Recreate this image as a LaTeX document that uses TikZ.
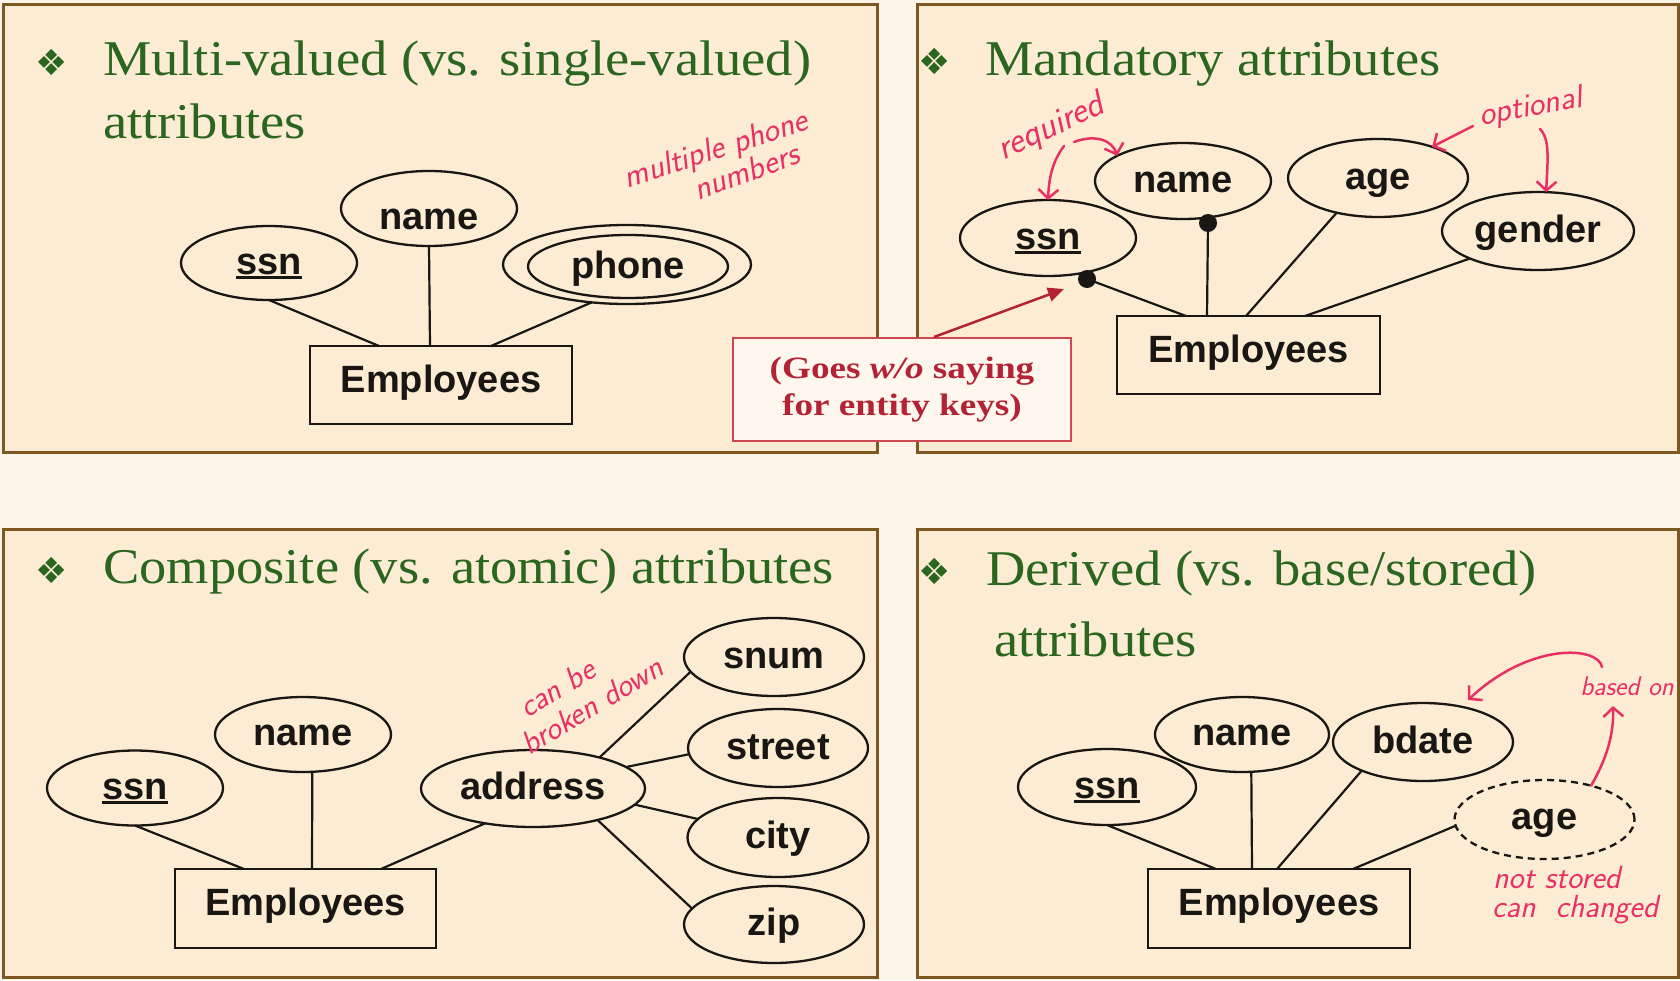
\documentclass[tikz,border=0pt]{standalone}
\usepackage{fontspec}
\setmainfont{Liberation Serif}
\newfontfamily\titlefont[FakeStretch=1.09]{Liberation Serif}
\newfontfamily\goesfont[FakeStretch=1.2]{Liberation Serif}
\newfontfamily\erfont{Liberation Sans}
\newfontfamily\symfont{DejaVu Sans}
\usetikzlibrary{shapes.geometric,arrows.meta}
\definecolor{bgc}{RGB}{253,245,234}
\definecolor{panelc}{RGB}{252,236,211}
\definecolor{borderc}{RGB}{125,88,35}
\definecolor{titlec}{RGB}{42,102,32}
\definecolor{pinkc}{RGB}{232,48,100}
\definecolor{redc}{RGB}{180,35,52}
\definecolor{redbox}{RGB}{205,72,80}
\definecolor{boxfill}{RGB}{254,247,238}
\definecolor{inkc}{RGB}{25,22,20}
\newcommand{\keyu}[1]{\setbox0\hbox{#1}\rlap{\rule[-5pt]{\wd0}{2.6pt}}\box0}
\begin{document}
\begin{tikzpicture}[x=1pt,y=-1pt,
  panel/.style={draw=borderc,line width=3pt,fill=panelc},
  ttl/.style={anchor=base west,inner sep=0pt,outer sep=0pt,text=titlec,font=\titlefont\fontsize{50}{52}\selectfont},
  bul/.style={inner sep=0pt,text=titlec,font=\symfont\fontsize{36}{36}\selectfont},
  attr/.style={ellipse,draw=inkc,line width=2.3pt,inner sep=0pt,outer sep=0pt,text=inkc,text height=24pt,text depth=2pt,font=\erfont\bfseries\fontsize{38}{40}\selectfont},
  ent/.style={rectangle,draw=inkc,line width=2.5pt,inner sep=0pt,outer sep=0pt,text=inkc,text height=22pt,text depth=8pt,font=\erfont\bfseries\fontsize{38}{40}\selectfont},
  edge/.style={draw=inkc,line width=2.2pt},
  kdot/.style={circle,fill=inkc,inner sep=0pt,minimum size=18pt},
  note/.style={inner sep=0pt,text=pinkc,font=\sffamily\itshape\fontsize{32}{34}\selectfont},
  parrow/.style={draw=pinkc,line width=2.5pt,line cap=round,-{Straight Barb[length=9pt,width=20pt]}},
]
\fill[bgc] (0,0) rectangle (1680,980);
\useasboundingbox (0,0) rectangle (1680,980);

% panels
\draw[panel] (3.5,4.5) rectangle (877.5,452.5);
\draw[panel] (917.5,4.5) rectangle (1678.5,452.5);
\draw[panel] (3.5,529.5) rectangle (877.5,977.5);
\draw[panel] (917.5,529.5) rectangle (1678.5,977.5);

% titles
\node[bul] (b1) at (52,62) {❖};
\node[ttl] (t1a) at (103,75) {Multi-valued (vs. single-valued)};
\node[ttl] (t1b) at (103,138) {attributes};
\node[bul] (b2) at (935,61) {❖};
\node[ttl] (t2a) at (985,75) {Mandatory attributes};
\node[bul] (b3) at (52,570) {❖};
\node[ttl] (t3a) at (103,583) {Composite (vs. atomic) attributes};
\node[bul] (b4) at (935,571) {❖};
\node[ttl] (t4a) at (986,585) {Derived (vs. base/stored)};
\node[ttl] (t4b) at (994,656) {attributes};

% ---------- panel 1: multi-valued
\node[attr,minimum width=176pt,minimum height=74pt] (ssnA) at (269,263) {\keyu{ssn}};
\node[attr,minimum width=176pt,minimum height=75pt,text height=44pt] (nameA) at (429,208.5) {name};
\node[attr,minimum width=248pt,minimum height=79pt] (phoneO) at (627,264.5) {};
\node[attr,minimum width=200pt,minimum height=63pt,text height=25pt,text depth=1pt] (phoneI) at (628,266.5) {phone};
\node[ent,minimum width=262pt,minimum height=78pt] (empA) at (441,385) {Employees};
\draw[edge] (ssnA.south) -- ([xshift=69pt]empA.north west);
\draw[edge] (nameA.south) -- ([xshift=120pt]empA.north west);
\draw[edge] (phoneO.-133) -- ([xshift=181pt]empA.north west);
\node[note,rotate=18,font=\sffamily\itshape\fontsize{33}{34}\selectfont] (mp1) at (716,151) {multiple phone};
\node[note,rotate=20,font=\sffamily\itshape\fontsize{33}{34}\selectfont\addfontfeatures{LetterSpace=12}] (mp2) at (746,171) {numbers};

% ---------- panel 2: mandatory
\node[attr,minimum width=176pt,minimum height=76pt] (ssnB) at (1048,238) {\keyu{ssn}};
\node[attr,minimum width=176pt,minimum height=76pt] (nameB) at (1183,181) {name};
\node[attr,minimum width=180pt,minimum height=78pt] (ageB) at (1378,178) {age};
\node[attr,minimum width=192pt,minimum height=78pt] (genderB) at (1538,231) {gender};
\node[ent,minimum width=263pt,minimum height=78pt] (empB) at (1248.5,355) {Employees};
\node[kdot] (dotB1) at (1087,279) {};
\node[kdot] (dotB2) at (1208,223) {};
\draw[edge] (dotB1.center) -- ([xshift=69pt]empB.north west);
\draw[edge] (dotB2.center) -- ([xshift=90pt]empB.north west);
\draw[edge] (ageB.-140) -- ([xshift=129pt]empB.north west);
\draw[edge] (genderB.-158) -- ([xshift=188pt]empB.north west);

\node[note,rotate=25,font=\sffamily\itshape\fontsize{36}{36}\selectfont] (req) at (1051,128) {required};
\coordinate (reqA) at (1064,146);
\coordinate (reqB) at (1074,142);
\draw[parrow] (reqA) .. controls (1052,162) and (1049,178) .. (ssnB.north);
\draw[parrow] (reqB) .. controls (1095,134) and (1112,140) .. (nameB.159);
\node[note,rotate=10,font=\sffamily\itshape\fontsize{33}{34}\selectfont] (opt) at (1531,108) {optional};
\coordinate (optA) at (1473,126);
\coordinate (optB) at (1540,129);
\draw[parrow] (optA) -- (ageB.30);
\draw[parrow] (optB) .. controls (1551,140) and (1547,165) .. (genderB.78);

% callout box
\node[draw=redbox,line width=2pt,fill=boxfill,minimum width=338pt,minimum height=103pt,align=center,text=redc,inner sep=0pt,font=\goesfont\bfseries\fontsize{31}{37}\selectfont] (goes) at (902,389.5) {(Goes \textit{w/o} saying\\for entity keys)};
\coordinate (keytip) at (1064,289);
\draw[draw=redc,line width=2.5pt,-{Triangle[length=16pt,width=14pt]}] ([xshift=202pt]goes.north west) -- (keytip);

% ---------- panel 3: composite
\node[attr,minimum width=176pt,minimum height=75pt] (ssnC) at (135,788) {\keyu{ssn}};
\node[attr,minimum width=176pt,minimum height=75pt] (nameC) at (303,734.5) {name};
\node[attr,minimum width=224pt,minimum height=77pt] (addrC) at (533,788.5) {address};
\node[attr,minimum width=180pt,minimum height=78pt] (snumC) at (774,657) {snum};
\node[attr,minimum width=180pt,minimum height=78pt] (streetC) at (778,748) {street};
\node[attr,minimum width=181pt,minimum height=79pt] (cityC) at (778,837.5) {city};
\node[attr,minimum width=180pt,minimum height=77pt] (zipC) at (774,924.5) {zip};
\node[ent,minimum width=261pt,minimum height=79pt] (empC) at (305.5,908.5) {Employees};
\draw[edge] (ssnC.south) -- ([xshift=69pt]empC.north west);
\draw[edge] (nameC.-76) -- ([xshift=137pt]empC.north west);
\draw[edge] (addrC.-144) -- ([xshift=206pt]empC.north west);
\draw[edge] (addrC.25) -- (snumC.-170);
\draw[edge] (addrC.13) -- (streetC.-176);
\draw[edge] (addrC.-9) -- (cityC.167);
\draw[edge] (addrC.-26) -- (zipC.169);
\node[note,rotate=31] (cb1) at (557,688) {can be};
\node[note,rotate=31] (cb2) at (592,705) {broken down};

% ---------- panel 4: derived
\node[attr,minimum width=178pt,minimum height=76pt] (ssnD) at (1107,787) {\keyu{ssn}};
\node[attr,minimum width=174pt,minimum height=75pt] (nameD) at (1242,734.5) {name};
\node[attr,minimum width=180pt,minimum height=78pt] (bdateD) at (1423,742) {bdate};
\node[attr,minimum width=180pt,minimum height=79pt,dash pattern=on 7pt off 5pt,text depth=4pt] (ageD) at (1544.5,819.5) {age};
\node[ent,minimum width=262pt,minimum height=79pt] (empD) at (1279,908.5) {Employees};
\draw[edge] (ssnD.south) -- ([xshift=68pt]empD.north west);
\draw[edge] (nameD.-76) -- ([xshift=104pt]empD.north west);
\draw[edge] (bdateD.-155) -- ([xshift=129pt]empD.north west);
\draw[edge] (ageD.-176) -- ([xshift=205pt]empD.north west);

\node[note,font=\sffamily\itshape\fontsize{27}{28}\selectfont] (bon) at (1627,686) {based on};
\coordinate (bo1) at (1602,667);
\coordinate (bo2) at (1468,700);
\draw[parrow] (bo1) .. controls (1598,646) and (1530,642) .. (bo2);
\coordinate (bo3) at (1613,706);
\draw[parrow] (ageD.36) .. controls (1606,760) and (1614,735) .. (bo3);
\node[note,anchor=base west] (ns1) at (1493,888) {not stored};
\node[note,anchor=base west] (ns2) at (1492,917) {can \ changed};
\end{tikzpicture}
\end{document}
